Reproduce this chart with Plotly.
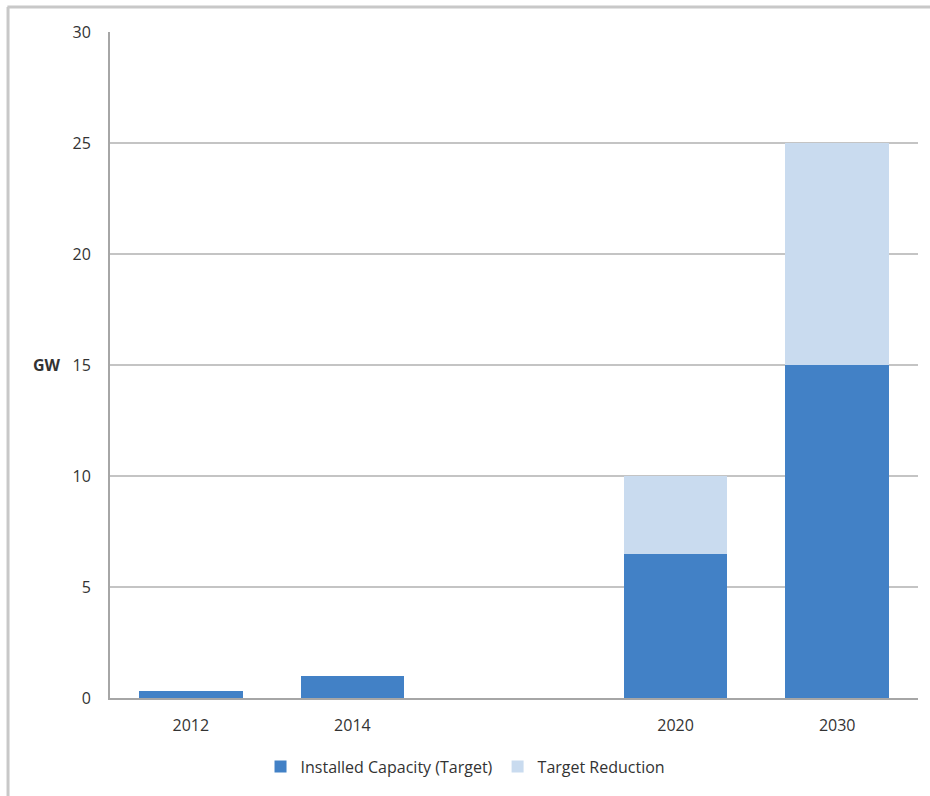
import plotly.graph_objects as go

years = ["2012", "2014", " ", "2020", "2030"]
installed = [0.3, 1.0, None, 6.5, 15.0]
reduction = [None, None, None, 3.5, 10.0]
y_ticks = [0, 5, 10, 15, 20, 25, 30]

fig = go.Figure()
fig.add_trace(go.Bar(x=years, y=installed, name="Installed Capacity (Target)",
                     marker=dict(color="#4281c6", line=dict(width=0))))
fig.add_trace(go.Bar(x=years, y=reduction, name="Target Reduction",
                     marker=dict(color="#c9dbef", line=dict(width=0))))

font = dict(family="Open Sans, Liberation Sans, sans-serif", size=16, color="#333333")

fig.update_layout(
    width=930, height=796,
    barmode="stack", bargap=0.36,
    plot_bgcolor="white", paper_bgcolor="white",
    margin=dict(l=110, r=12, t=32, b=96),
    font=font,
    showlegend=True,
    legend=dict(orientation="h", x=0.44, xanchor="center", y=-0.103, yanchor="middle",
                font=font, itemwidth=30, traceorder="normal"),
    xaxis=dict(type="category", showgrid=False, showline=True, linecolor="#a6a6a6",
               linewidth=2, ticks="", tickfont=font, ticklabelstandoff=12),
    yaxis=dict(range=[0, 30], tickvals=y_ticks, showgrid=True, gridcolor="#c4c4c4",
               gridwidth=2, showline=True, linecolor="#a6a6a6", linewidth=2,
               ticks="", tickfont=font, ticklabelstandoff=14, zeroline=False),
    annotations=[dict(text="<b>GW</b>", xref="paper", yref="paper",
                      x=-0.058, y=0.5, xanchor="right", yanchor="middle",
                      showarrow=False, font=font)],
    shapes=[
        dict(type="line", xref="paper", yref="paper", x0=-0.127, x1=1.02,
             y0=1.0374, y1=1.0374, line=dict(color="#c8c8c8", width=3)),
        dict(type="line", xref="paper", yref="paper", x0=-0.1262, x1=-0.1262,
             y0=1.0374, y1=-0.15, line=dict(color="#c8c8c8", width=3)),
    ],
)

fig.write_html("out.html")
